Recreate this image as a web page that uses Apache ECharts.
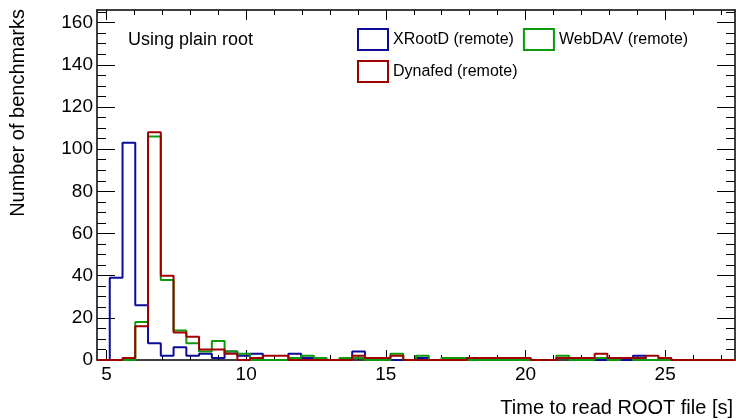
<!DOCTYPE html>
<html>
<head>
<meta charset="utf-8">
<script src="https://cdn.jsdelivr.net/npm/echarts@6/dist/echarts.min.js"></script>
<style>
  html, body { margin: 0; padding: 0; background: #fff; }
  #chart { width: 736px; height: 420px; }
</style>
</head>
<body>
<div id="chart"></div>
<script>
// histogram binning: 50 bins from 4.66 to 27.5 (left edges + last right edge)
const binEdges = [
  4.660, 5.117, 5.574, 6.030, 6.487, 6.944, 7.401, 7.858, 8.314, 8.771,
  9.228, 9.685, 10.142, 10.598, 11.055, 11.512, 11.969, 12.426, 12.882, 13.339,
  13.796, 14.253, 14.710, 15.166, 15.623, 16.080, 16.537, 16.994, 17.450, 17.907,
  18.364, 18.821, 19.278, 19.734, 20.191, 20.648, 21.105, 21.562, 22.018, 22.475,
  22.932, 23.389, 23.846, 24.302, 24.759, 25.216, 25.673, 26.130, 26.586, 27.043,
  27.500
]

const xrootd = [
  0, 39, 103, 26, 8, 2, 6, 2, 3, 1,
  4, 2, 3, 0, 0, 3, 1, 0, 0, 0,
  4, 0, 0, 0, 0, 1, 0, 0, 0, 0,
  1, 0, 1, 0, 0, 0, 1, 0, 0, 0,
  0, 0, 2, 0, 1, 0, 0, 0, 0, 0
]
const webdav = [
  0, 0, 0, 18, 106, 38, 14, 8, 4, 9,
  4, 3, 0, 0, 0, 1, 2, 1, 0, 1,
  1, 0, 0, 3, 0, 2, 0, 1, 1, 0,
  0, 0, 0, 0, 0, 0, 2, 0, 0, 1,
  0, 1, 0, 0, 0, 0, 0, 0, 0, 0
]
const dynafed = [
  0, 0, 1, 16, 108, 40, 13, 11, 5, 5,
  3, 0, 1, 2, 2, 0, 0, 0, 0, 0,
  2, 1, 1, 2, 0, 0, 0, 0, 0, 1,
  1, 1, 1, 1, 0, 0, 1, 1, 1, 3,
  1, 1, 1, 2, 1, 0, 0, 0, 0, 0
]

const xMajorTicks = [5, 10, 15, 20, 25]
const xMinorTicks = [5, 6, 7, 8, 9, 10, 11, 12, 13, 14, 15, 16, 17, 18, 19, 20, 21, 22, 23, 24, 25, 26, 27]
const yMajorTicks = [0, 20, 40, 60, 80, 100, 120, 140, 160]
const yMinorTicks = [0, 5, 10, 15, 20, 25, 30, 35, 40, 45, 50, 55, 60, 65, 70, 75, 80, 85, 90, 95,
  100, 105, 110, 115, 120, 125, 130, 135, 140, 145, 150, 155, 160, 165]

const FONT = '"Liberation Sans", Helvetica, Arial, sans-serif'
const colors = { xrootd: '#0c0c99', webdav: '#0c9a0c', dynafed: '#a00000' }

// step line points: one point per bin left edge, plus the last right edge
function histPoints (vals) {
  const pts = vals.map((v, i) => [binEdges[i], v])
  pts.push([binEdges[binEdges.length - 1], vals[vals.length - 1]])
  return pts
}

const X_MIN = 4.66
const X_MAX = 27.5
const Y_MAX = 166

function xAxisDef (position, ticks, len, withLine, withLabels) {
  return {
    type: 'value',
    position,
    min: X_MIN,
    max: X_MAX,
    axisLine: { show: withLine, onZero: false, lineStyle: { color: '#000', width: 1.5 } },
    axisTick: { show: true, inside: true, length: len, customValues: ticks, lineStyle: { color: '#000', width: 1 } },
    axisLabel: withLabels
      ? { show: true, customValues: xMajorTicks, margin: 5, color: '#000', fontSize: 19, fontFamily: FONT }
      : { show: false },
    splitLine: { show: false }
  }
}

function yAxisDef (position, ticks, len, withLine, withLabels) {
  return {
    type: 'value',
    position,
    min: 0,
    max: Y_MAX,
    axisLine: { show: withLine, onZero: false, lineStyle: { color: '#000', width: 1.5 } },
    axisTick: { show: true, inside: true, length: len, customValues: ticks, lineStyle: { color: '#000', width: 1 } },
    axisLabel: withLabels
      ? { show: true, customValues: yMajorTicks, margin: 4, color: '#000', fontSize: 19, fontFamily: FONT }
      : { show: false },
    splitLine: { show: false }
  }
}

function histSeries (name, vals, color) {
  return {
    name,
    type: 'line',
    step: 'end',
    data: histPoints(vals),
    symbol: 'none',
    xAxisIndex: 0,
    yAxisIndex: 0,
    color,
    itemStyle: { color },
    lineStyle: { color, width: 2 }
  }
}

function legendItem (name, color) {
  return {
    name,
    icon: 'rect',
    itemStyle: { color: 'rgba(0,0,0,0)', borderColor: color, borderWidth: 2 }
  }
}

const option = {
  animation: false,
  backgroundColor: '#fff',
  grid: { left: 97, right: 1, top: 10, bottom: 60, containLabel: false },
  title: {
    text: 'Using plain root',
    left: 128,
    top: 31,
    padding: 0,
    textStyle: { fontSize: 18, fontWeight: 'normal', color: '#000', fontFamily: FONT }
  },
  legend: [
    {
      data: [legendItem('XRootD (remote)', colors.xrootd), legendItem('WebDAV (remote)', colors.webdav)],
      left: 357,
      top: 28,
      padding: 0,
      itemWidth: 30,
      itemHeight: 21,
      itemGap: 9,
      selectedMode: false,
      textStyle: { fontSize: 16, color: '#000', fontFamily: FONT }
    },
    {
      data: [legendItem('Dynafed (remote)', colors.dynafed)],
      left: 357,
      top: 60,
      padding: 0,
      itemWidth: 30,
      itemHeight: 21,
      selectedMode: false,
      textStyle: { fontSize: 16, color: '#000', fontFamily: FONT }
    }
  ],
  xAxis: [
    xAxisDef('bottom', xMajorTicks, 10, true, true),
    xAxisDef('bottom', xMinorTicks, 5, false, false),
    xAxisDef('top', xMajorTicks, 10, true, false),
    xAxisDef('top', xMinorTicks, 5, false, false)
  ],
  yAxis: [
    yAxisDef('left', yMajorTicks, 18, true, true),
    yAxisDef('left', yMinorTicks, 9, false, false),
    yAxisDef('right', yMajorTicks, 18, true, false),
    yAxisDef('right', yMinorTicks, 9, false, false)
  ],
  graphic: [
    {
      type: 'text',
      x: 18,
      y: 9,
      rotation: Math.PI / 2,
      style: {
        text: 'Number of benchmarks',
        font: '20px ' + FONT,
        fill: '#000',
        align: 'right',
        textAlign: 'right',
        verticalAlign: 'middle',
        textVerticalAlign: 'middle'
      }
    },
    {
      type: 'text',
      x: 733,
      y: 408,
      style: {
        text: 'Time to read ROOT file [s]',
        font: '20px ' + FONT,
        fill: '#000',
        align: 'right',
        textAlign: 'right',
        verticalAlign: 'middle',
        textVerticalAlign: 'middle'
      }
    }
  ],
  series: [
    histSeries('XRootD (remote)', xrootd, colors.xrootd),
    histSeries('WebDAV (remote)', webdav, colors.webdav),
    histSeries('Dynafed (remote)', dynafed, colors.dynafed)
  ]
}

const myChart = echarts.init(document.getElementById('chart'))
myChart.setOption(option)
</script>
</body>
</html>
